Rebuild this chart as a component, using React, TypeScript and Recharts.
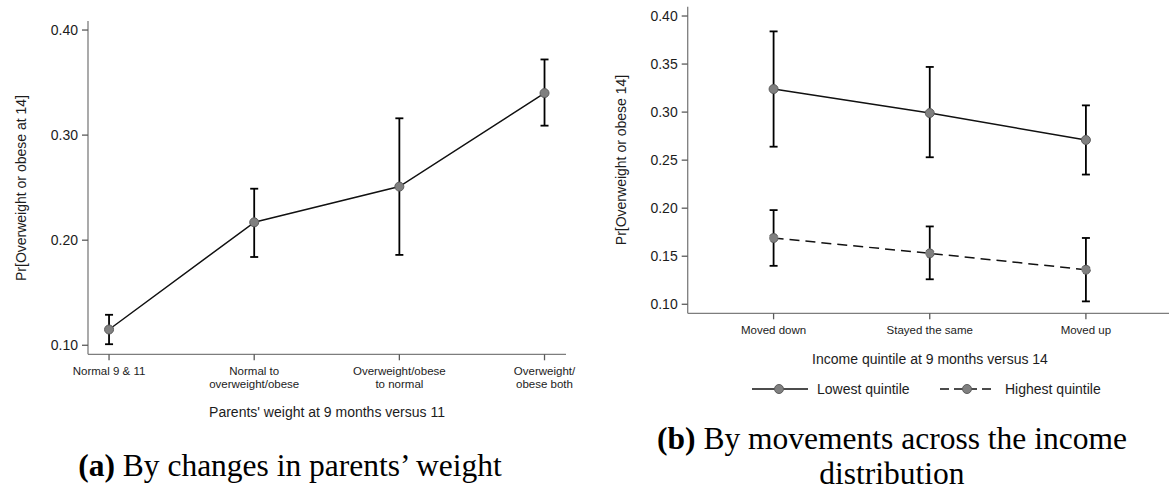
import React from 'react';
import { LineChart, Line, XAxis, YAxis, ErrorBar, Label } from 'recharts';

// Panel (a): parents' weight change
const parentCategories: string[][] = [
  ['Normal 9 & 11'],
  ['Normal to', 'overweight/obese'],
  ['Overweight/obese', 'to normal'],
  ['Overweight/', 'obese both'],
];
const parentEstimate = [0.115, 0.217, 0.251, 0.340];
const parentLower = [0.101, 0.184, 0.186, 0.309];
const parentUpper = [0.129, 0.249, 0.316, 0.372];

// Panel (b): income quintile movement
const incomeCategories = ['Moved down', 'Stayed the same', 'Moved up'];
const lowestEstimate = [0.324, 0.299, 0.271];
const lowestLower = [0.264, 0.253, 0.235];
const lowestUpper = [0.384, 0.347, 0.307];
const highestEstimate = [0.169, 0.153, 0.136];
const highestLower = [0.140, 0.126, 0.103];
const highestUpper = [0.198, 0.181, 0.169];

const leftTicks = [0.1, 0.2, 0.3, 0.4];
const rightTicks = [0.1, 0.15, 0.2, 0.25, 0.3, 0.35, 0.4];

const parentData = parentEstimate.map((v, i) => ({
  x: i + 1,
  est: v,
  err: [v - parentLower[i], parentUpper[i] - v],
}));

const incomeData = incomeCategories.map((_, i) => ({
  x: i + 1,
  lowest: lowestEstimate[i],
  lowestErr: [lowestEstimate[i] - lowestLower[i], lowestUpper[i] - lowestEstimate[i]],
  highest: highestEstimate[i],
  highestErr: [highestEstimate[i] - highestLower[i], highestUpper[i] - highestEstimate[i]],
}));

const SANS = '"Liberation Sans", Arial, sans-serif';
const SERIF = '"Liberation Serif", "Times New Roman", serif';
const TEXT = '#1c1c1c';
const AXIS = '#7d7d7d';

const dotStyle = { r: 4.5, fill: '#808080', stroke: '#5c5c5c', strokeWidth: 1 };

const makeTick = (getLines: (v: number) => string[]) => (props: any) => {
  const { x, y, payload } = props;
  const lines = getLines(payload.value);
  return (
    <text x={x} y={y} textAnchor="middle" fontSize={11.5} fontFamily={SANS} fill={TEXT}>
      {lines.map((l, i) => (
        <tspan key={i} x={x} dy={i === 0 ? 12.7 : 12.5}>
          {l}
        </tspan>
      ))}
    </text>
  );
};

const yTickStyle = { fontSize: 14, fontFamily: SANS, fill: TEXT };

const ParentChart = () => (
  <LineChart
    width={590}
    height={430}
    data={parentData}
    margin={{ top: 21, right: 24, bottom: 5, left: 28 }}
  >
    <XAxis
      dataKey="x"
      type="number"
      domain={[0.855, 4.148]}
      ticks={[1, 2, 3, 4]}
      allowDataOverflow
      height={70.7}
      stroke={AXIS}
      strokeWidth={1.3}
      tickSize={6}
      tickLine={{ stroke: '#5a5a5a' }}
      tick={makeTick((v) => parentCategories[v - 1] || [])}
    >
      <Label
        content={() => (
          <text x={327} y={411.7} textAnchor="middle" dominantBaseline="central" fontSize={14} fontFamily={SANS} fill={TEXT}>
            Parents' weight at 9 months versus 11
          </text>
        )}
      />
    </XAxis>
    <YAxis
      type="number"
      domain={[0.0914, 0.4086]}
      ticks={leftTicks}
      allowDataOverflow
      width={60}
      stroke={AXIS}
      strokeWidth={1.3}
      tickSize={6}
      tickMargin={4}
      tickLine={{ stroke: '#5a5a5a' }}
      tick={yTickStyle}
      tickFormatter={(v: number) => v.toFixed(2)}
    >
      <Label
        content={() => (
          <text
            x={21}
            y={188}
            transform="rotate(-90 21 188)"
            textAnchor="middle"
            dominantBaseline="central"
            fontSize={14}
            fontFamily={SANS}
            fill={TEXT}
          >
            Pr[Overweight or obese at 14]
          </text>
        )}
      />
    </YAxis>
    <Line
      dataKey="est"
      stroke="#111"
      strokeWidth={1.5}
      dot={dotStyle}
      activeDot={false}
      isAnimationActive={false}
    >
      <ErrorBar dataKey="err" direction="y" width={4} stroke="#000" strokeWidth={1.8} isAnimationActive={false} />
    </Line>
  </LineChart>
);

const IncomeChart = () => (
  <LineChart
    width={620}
    height={420}
    data={incomeData}
    margin={{ top: 6.7, right: 38.2, bottom: 46.7, left: 37.7 }}
  >
    <XAxis
      dataKey="x"
      type="number"
      domain={[0.45, 3.55]}
      ticks={[1, 2, 3]}
      allowDataOverflow
      height={60}
      stroke={AXIS}
      strokeWidth={1.3}
      tickSize={6}
      tickLine={{ stroke: '#5a5a5a' }}
      tick={makeTick((v) => (incomeCategories[v - 1] ? [incomeCategories[v - 1]] : []))}
    >
      <Label
        content={() => (
          <text x={340} y={359} textAnchor="middle" dominantBaseline="central" fontSize={14} fontFamily={SANS} fill={TEXT}>
            Income quintile at 9 months versus 14
          </text>
        )}
      />
    </XAxis>
    <YAxis
      type="number"
      domain={[0.0906, 0.4097]}
      ticks={rightTicks}
      allowDataOverflow
      width={60}
      stroke={AXIS}
      strokeWidth={1.3}
      tickSize={6}
      tickMargin={4}
      tickLine={{ stroke: '#5a5a5a' }}
      tick={yTickStyle}
      tickFormatter={(v: number) => v.toFixed(2)}
    >
      <Label
        content={() => (
          <text
            x={30.5}
            y={160}
            transform="rotate(-90 30.5 160)"
            textAnchor="middle"
            dominantBaseline="central"
            fontSize={14}
            fontFamily={SANS}
            fill={TEXT}
          >
            Pr[Overweight or obese 14]
          </text>
        )}
      />
    </YAxis>
    <Line
      dataKey="lowest"
      name="Lowest quintile"
      stroke="#111"
      strokeWidth={1.5}
      dot={dotStyle}
      activeDot={false}
      isAnimationActive={false}
    >
      <ErrorBar dataKey="lowestErr" direction="y" width={4} stroke="#000" strokeWidth={1.8} isAnimationActive={false} />
    </Line>
    <Line
      dataKey="highest"
      name="Highest quintile"
      stroke="#111"
      strokeWidth={1.5}
      strokeDasharray="10 6"
      dot={dotStyle}
      activeDot={false}
      isAnimationActive={false}
    >
      <ErrorBar dataKey="highestErr" direction="y" width={4} stroke="#000" strokeWidth={1.8} isAnimationActive={false} />
    </Line>
  </LineChart>
);

const LegendItem = ({ dashed, label, left }: { dashed: boolean; label: string; left: number }) => (
  <div style={{ position: 'absolute', left, top: 379, height: 20, display: 'flex', alignItems: 'center' }}>
    <svg width={58} height={20} style={{ display: 'block' }}>
      <line x1={1} y1={10} x2={57} y2={10} stroke="#111" strokeWidth={1.5} strokeDasharray={dashed ? '9 5' : undefined} />
      <circle cx={28} cy={10} r={4.5} fill="#808080" stroke="#5c5c5c" strokeWidth={1} />
    </svg>
    <span style={{ marginLeft: 8, fontFamily: SANS, fontSize: 14, color: TEXT, whiteSpace: 'nowrap' }}>{label}</span>
  </div>
);

const captionStyle = (left: number, width: number, centerY: number): React.CSSProperties => ({
  position: 'absolute',
  left,
  width,
  top: centerY - 14,
  height: 28,
  textAlign: 'center',
  fontFamily: SERIF,
  fontSize: 31.5,
  lineHeight: '28px',
  color: '#000',
  whiteSpace: 'nowrap',
});

export default function App() {
  return (
    <div
      style={{
        position: 'absolute',
        left: 0,
        top: 0,
        width: 1169,
        height: 493,
        overflow: 'hidden',
        background: '#fff',
      }}
    >
      <div style={{ position: 'absolute', left: 0, top: 0 }}>
        <ParentChart />
      </div>
      <div style={{ position: 'absolute', left: 590, top: 0 }}>
        <IncomeChart />
      </div>
      <LegendItem dashed={false} label="Lowest quintile" left={751} />
      <LegendItem dashed={true} label="Highest quintile" left={939} />
      <div style={captionStyle(0, 580, 466)}>
        <b>(a)</b> By changes in parents’ weight
      </div>
      <div style={captionStyle(600, 584, 439)}>
        <b>(b)</b> By movements across the income
      </div>
      <div style={captionStyle(600, 584, 474)}>distribution</div>
    </div>
  );
}
